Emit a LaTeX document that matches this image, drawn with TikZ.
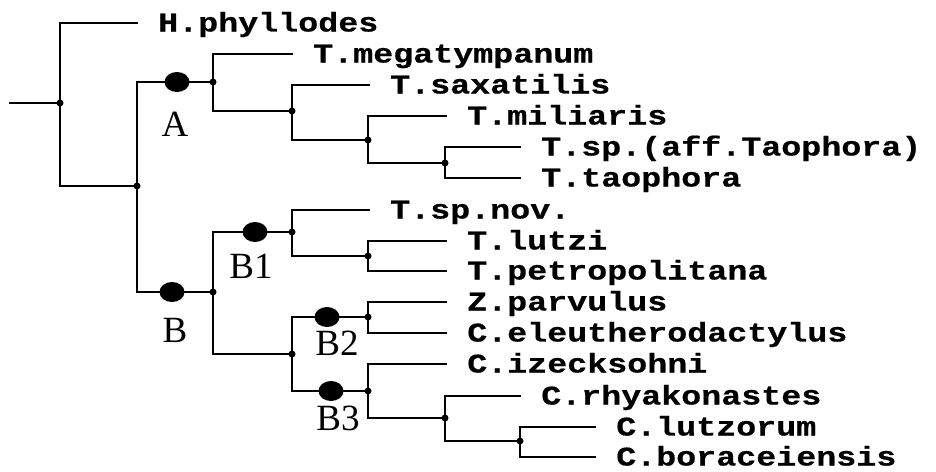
\documentclass[tikz,border=0pt]{standalone}
\usepackage{fontspec}
\setmainfont{Liberation Serif}
\newfontfamily\taxfont{Liberation Mono}[BoldFont={* Bold}, FakeStretch=1.235, FakeBold=0.6]
\usetikzlibrary{shapes.geometric}

\begin{document}
\begin{tikzpicture}[x=1pt, y=-1pt,
  branch/.style={line width=2.2pt, line cap=rect},
  dot/.style={circle, fill=black, inner sep=0pt, minimum size=7pt},
  clade/.style={ellipse, fill=black, inner sep=0pt, minimum width=25pt, minimum height=20pt},
  taxon/.style={anchor=base west, inner sep=0pt, font=\taxfont\bfseries\fontsize{27}{27}\selectfont},
  cladelabel/.style={inner sep=0pt, font=\fontsize{37}{37}\selectfont}]

\useasboundingbox[fill=white] (0,0) rectangle (936,471);

% ---- internal nodes ----
\coordinate (stub) at (10,103);
\node[dot] (root) at (60,103) {};
\node[dot] (n1) at (137,186) {};
\node[dot] (nA) at (213,82) {};
\node[dot] (n3) at (292,111) {};
\node[dot] (n4) at (368,140) {};
\node[dot] (n5) at (445,163) {};
\node[dot] (nB) at (213,292) {};
\node[dot] (nB1) at (292,232) {};
\node[dot] (n6) at (368,256) {};
\node[dot] (n7) at (292,354) {};
\node[dot] (nB2) at (368,317) {};
\node[dot] (nB3) at (368,391) {};
\node[dot] (n8) at (445,418) {};
\node[dot] (n9) at (520,441) {};

% ---- branch tips ----
\coordinate (hph) at (137,23);
\coordinate (meg) at (292,54);
\coordinate (sax) at (369,85);
\coordinate (mil) at (446,116);
\coordinate (aff) at (520,147);
\coordinate (tao) at (520,178);
\coordinate (nov) at (369,210);
\coordinate (lut) at (446,241);
\coordinate (pet) at (446,271);
\coordinate (par) at (446,302);
\coordinate (ele) at (446,333);
\coordinate (ize) at (446,364);
\coordinate (rhy) at (520,396);
\coordinate (lzo) at (595,427);
\coordinate (bor) at (595,457);

% ---- branches ----
\draw[branch] (stub) -- (root.center);
\draw[branch] (root.center) |- (hph);
\draw[branch] (root.center) |- (n1.center);
\draw[branch] (n1.center) |- (nA.center);
\draw[branch] (n1.center) |- (nB.center);
\draw[branch] (nA.center) |- (meg);
\draw[branch] (nA.center) |- (n3.center);
\draw[branch] (n3.center) |- (sax);
\draw[branch] (n3.center) |- (n4.center);
\draw[branch] (n4.center) |- (mil);
\draw[branch] (n4.center) |- (n5.center);
\draw[branch] (n5.center) |- (aff);
\draw[branch] (n5.center) |- (tao);
\draw[branch] (nB.center) |- (nB1.center);
\draw[branch] (nB.center) |- (n7.center);
\draw[branch] (nB1.center) |- (nov);
\draw[branch] (nB1.center) |- (n6.center);
\draw[branch] (n6.center) |- (lut);
\draw[branch] (n6.center) |- (pet);
\draw[branch] (n7.center) |- (nB2.center);
\draw[branch] (n7.center) |- (nB3.center);
\draw[branch] (nB2.center) |- (par);
\draw[branch] (nB2.center) |- (ele);
\draw[branch] (nB3.center) |- (ize);
\draw[branch] (nB3.center) |- (n8.center);
\draw[branch] (n8.center) |- (rhy);
\draw[branch] (n8.center) |- (n9.center);
\draw[branch] (n9.center) |- (lzo);
\draw[branch] (n9.center) |- (bor);

% ---- clade markers ----
\node[clade] (cA) at (177,82) {};
\node[clade] (cB) at (172,292) {};
\node[clade] (cB1) at (255,232) {};
\node[clade] (cB2) at (327,317) {};
\node[clade] (cB3) at (331,391) {};

\node[cladelabel] (lA) at (175,124) {A};
\node[cladelabel] (lB) at (175,330) {B};
\node[cladelabel] (lB1) at (251,266) {B1};
\node[cladelabel] (lB2) at (337,343) {B2};
\node[cladelabel] (lB3) at (338,418) {B3};

% ---- taxon names ----
\node[taxon] (thph) at ([xshift=21pt,yshift=-8.5pt]hph) {H.phyllodes};
\node[taxon] (tmeg) at ([xshift=21pt,yshift=-8.5pt]meg) {T.megatympanum};
\node[taxon] (tsax) at ([xshift=21pt,yshift=-8.5pt]sax) {T.saxatilis};
\node[taxon] (tmil) at ([xshift=21pt,yshift=-8.5pt]mil) {T.miliaris};
\node[taxon] (taff) at ([xshift=21pt,yshift=-8.5pt]aff) {T.sp.(aff.Taophora)};
\node[taxon] (ttao) at ([xshift=21pt,yshift=-8.5pt]tao) {T.taophora};
\node[taxon] (tnov) at ([xshift=21pt,yshift=-8.5pt]nov) {T.sp.nov.};
\node[taxon] (tlut) at ([xshift=21pt,yshift=-8.5pt]lut) {T.lutzi};
\node[taxon] (tpet) at ([xshift=21pt,yshift=-8.5pt]pet) {T.petropolitana};
\node[taxon] (tpar) at ([xshift=21pt,yshift=-8.5pt]par) {Z.parvulus};
\node[taxon] (tele) at ([xshift=21pt,yshift=-8.5pt]ele) {C.eleutherodactylus};
\node[taxon] (tize) at ([xshift=21pt,yshift=-8.5pt]ize) {C.izecksohni};
\node[taxon] (trhy) at ([xshift=21pt,yshift=-8.5pt]rhy) {C.rhyakonastes};
\node[taxon] (tlzo) at ([xshift=21pt,yshift=-8.5pt]lzo) {C.lutzorum};
\node[taxon] (tbor) at ([xshift=21pt,yshift=-8.5pt]bor) {C.boraceiensis};
\end{tikzpicture}
\end{document}
